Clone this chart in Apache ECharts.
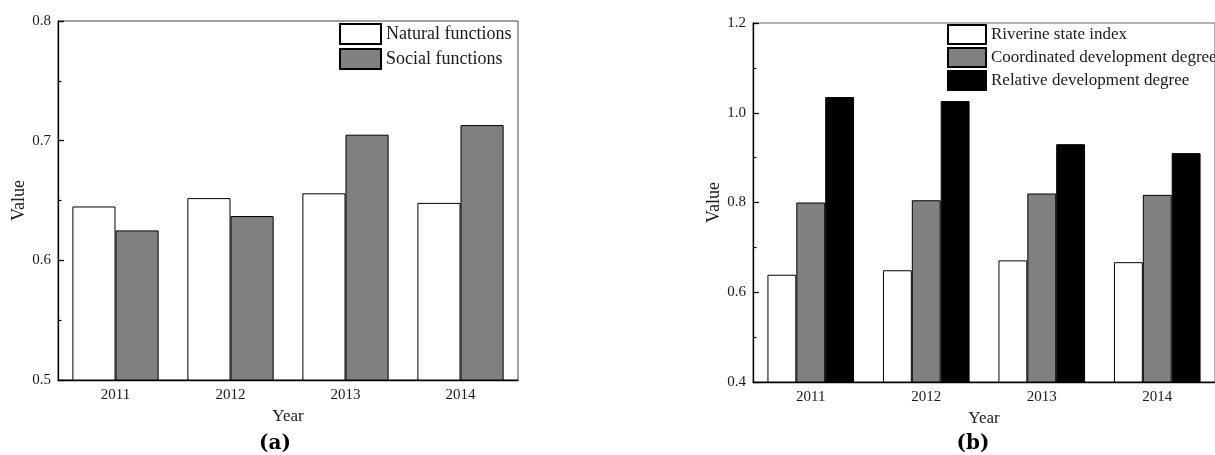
<!DOCTYPE html>
<html>
<head>
<meta charset="utf-8">
<title>Riverine functions and development degree, 2011–2014</title>
<script src="https://cdn.jsdelivr.net/npm/echarts@6/dist/echarts.min.js"></script>
<style>
  html, body { margin: 0; padding: 0; background: #fff; }
  #chart { width: 1215px; height: 455px; }
</style>
</head>
<body>
<div id="chart"></div>
<script>
// Categories
const years = ['2011', '2012', '2013', '2014'];

// Panel (a): function values
const naturalFunctions = [0.645, 0.652, 0.656, 0.648];
const socialFunctions  = [0.625, 0.637, 0.705, 0.713];

// Panel (b): state and development indices
const riverineStateIndex     = [0.639, 0.649, 0.671, 0.667];
const coordinatedDevelopment = [0.800, 0.805, 0.820, 0.817];
const relativeDevelopment    = [1.035, 1.026, 0.930, 0.910];

// Axis ranges
const axisA = { min: 0.5, max: 0.8, interval: 0.1 };
const axisB = { min: 0.4, max: 1.2, interval: 0.2 };

const FONT = '"Liberation Serif", "Times New Roman", serif';
const INK = '#1a1a1a';

function valueAxis(gridIndex, range, gap) {
  return {
    type: 'value',
    gridIndex: gridIndex,
    min: range.min, max: range.max, interval: range.interval,
    name: 'Value', nameLocation: 'middle', nameGap: gap,
    nameTextStyle: { fontFamily: FONT, fontSize: 18, color: INK },
    axisLine: { show: true, lineStyle: { color: '#000', width: 1.3 } },
    axisTick: { show: true, inside: true, length: 6, lineStyle: { color: '#000', width: 1.3 } },
    minorTick: { show: true, splitNumber: 2, length: 3.5, lineStyle: { color: '#000', width: 1.2 } },
    splitLine: { show: false },
    axisLabel: {
      fontFamily: FONT, fontSize: 15, color: INK, margin: 7,
      formatter: v => v.toFixed(1)
    }
  };
}

function categoryAxis(gridIndex) {
  return {
    type: 'category',
    gridIndex: gridIndex,
    data: years,
    name: 'Year', nameLocation: 'middle', nameGap: 22,
    nameTextStyle: { fontFamily: FONT, fontSize: 17, color: INK },
    axisLine: { show: true, lineStyle: { color: '#000', width: 1.3 } },
    axisTick: { show: false },
    axisLabel: { fontFamily: FONT, fontSize: 15, color: INK, margin: 8 }
  };
}

function barSeries(name, data, fill, axisIdx) {
  return {
    type: 'bar',
    name: name,
    data: data,
    xAxisIndex: axisIdx, yAxisIndex: axisIdx,
    barGap: '0%',
    barCategoryGap: '25%',
    itemStyle: { color: fill, borderColor: '#000', borderWidth: 1 },
    emphasis: { disabled: true },
    silent: true
  };
}

function caption(letter, x) {
  return {
    text: '{p|(}{b|' + letter + '}{p|)}',
    left: x, top: 429, textAlign: 'center',
    textStyle: {
      rich: {
        p: { fontFamily: '"DejaVu Serif", serif', fontSize: 20, color: '#000' },
        b: { fontFamily: '"DejaVu Serif", serif', fontSize: 20, fontWeight: 'bold', color: '#000' }
      }
    }
  };
}

const chart = echarts.init(document.getElementById('chart'), null, { renderer: 'canvas' });

chart.setOption({
  animation: false,
  backgroundColor: '#fff',
  title: [caption('a', 270), caption('b', 968)],
  grid: [
    { left: 58, top: 21, width: 460, height: 359, show: true, borderColor: '#444', borderWidth: 1, containLabel: false },
    { left: 753, top: 23, width: 463, height: 359, show: true, borderColor: '#666', borderWidth: 1, containLabel: false }
  ],
  xAxis: [categoryAxis(0), categoryAxis(1)],
  yAxis: [valueAxis(0, axisA, 30), valueAxis(1, axisB, 30)],
  legend: [
    {
      data: ['Natural functions', 'Social functions'],
      orient: 'vertical', left: 339, top: 23, padding: 0,
      itemWidth: 41, itemHeight: 20, itemGap: 3, icon: 'rect',
      selectedMode: false,
      textStyle: { fontFamily: FONT, fontSize: 18, color: INK }
    },
    {
      data: ['Riverine state index', 'Coordinated development degree', 'Relative development degree'],
      orient: 'vertical', left: 947, top: 24, padding: 0,
      itemWidth: 38, itemHeight: 19, itemGap: 2, icon: 'rect',
      selectedMode: false,
      textStyle: { fontFamily: FONT, fontSize: 17, color: INK }
    }
  ],
  series: [
    barSeries('Natural functions', naturalFunctions, '#ffffff', 0),
    barSeries('Social functions', socialFunctions, '#808080', 0),
    barSeries('Riverine state index', riverineStateIndex, '#ffffff', 1),
    barSeries('Coordinated development degree', coordinatedDevelopment, '#808080', 1),
    barSeries('Relative development degree', relativeDevelopment, '#000000', 1)
  ]
});
</script>
</body>
</html>
